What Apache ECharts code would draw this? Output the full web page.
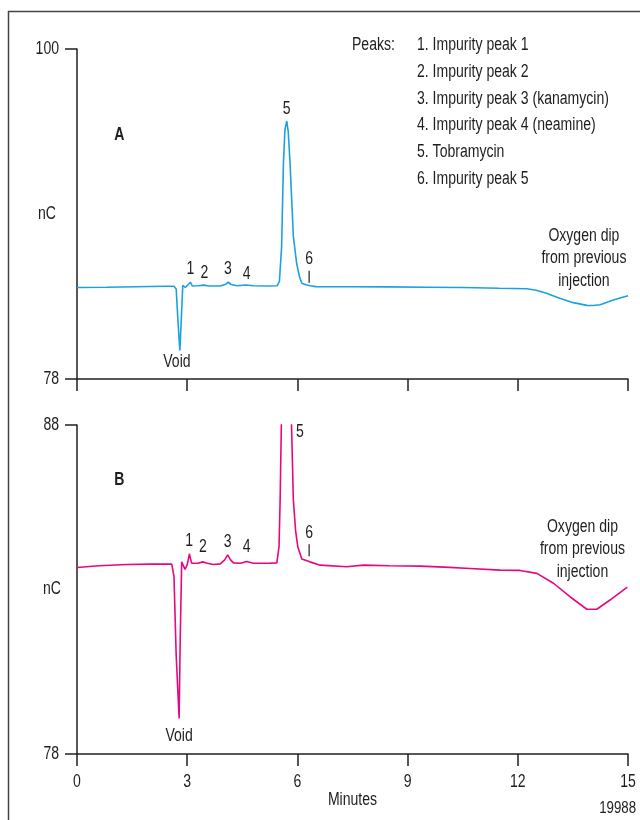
<!DOCTYPE html>
<html>
<head>
<meta charset="utf-8">
<script src="https://cdn.jsdelivr.net/npm/echarts@6/dist/echarts.min.js"></script>
<style>html,body{margin:0;padding:0;background:#fff}#chart{width:640px;height:820px}</style>
</head>
<body>
<div id="chart"></div>
<script>
// ---- Data ----
var xTicks = [0, 3, 6, 9, 12, 15];
var yTicksA = [78, 100];
var yTicksB = [78, 88];

// Chromatogram A (minutes, nC)
var timesA = [0.00,0.80,1.60,2.40,2.64,2.70,2.75,2.80,2.84,2.88,2.90,2.95,2.99,3.09,3.14,3.30,3.45,3.60,3.90,4.05,4.12,4.20,4.35,4.60,4.80,5.20,5.45,5.51,5.57,5.62,5.66,5.71,5.75,5.80,5.89,5.98,6.06,6.12,6.25,6.35,6.50,7.50,8.50,9.50,10.50,11.50,12.24,12.50,12.78,13.10,13.51,13.88,14.05,14.24,14.60,15.00];
var valuesA = [84.10,84.12,84.15,84.18,84.18,84.00,81.80,79.90,82.00,84.25,84.35,84.10,84.05,84.45,84.20,84.22,84.26,84.20,84.20,84.32,84.45,84.30,84.22,84.27,84.22,84.20,84.22,84.50,86.80,92.40,94.60,95.20,94.50,92.40,87.50,85.70,84.80,84.38,84.27,84.22,84.16,84.15,84.14,84.12,84.10,84.05,84.02,83.92,83.71,83.42,83.09,82.91,82.90,82.95,83.27,83.55];

// Chromatogram B (minutes, nC)
var timesB = [0.00,0.60,1.35,2.00,2.58,2.64,2.70,2.78,2.81,2.85,2.90,2.94,3.00,3.06,3.12,3.17,3.30,3.42,3.55,3.71,3.90,4.02,4.10,4.18,4.26,4.45,4.62,4.80,5.20,5.44,5.50,5.53,5.57,5.62,5.66,5.71,5.75,5.80,5.84,5.89,5.95,6.01,6.12,6.34,6.62,7.34,7.80,8.50,9.34,10.00,10.70,11.52,12.06,12.52,12.97,13.42,13.88,14.15,14.51,14.98];
var valuesB = [83.67,83.72,83.76,83.77,83.77,83.40,81.00,79.08,81.50,83.84,83.90,83.61,83.75,84.08,83.80,83.74,83.80,83.84,83.80,83.76,83.78,83.90,84.05,83.90,83.81,83.80,83.85,83.80,83.80,83.81,84.30,85.72,88.50,92.40,94.60,95.20,94.50,92.00,88.00,85.72,84.80,84.30,83.93,83.84,83.74,83.69,83.74,83.72,83.71,83.68,83.64,83.59,83.58,83.49,83.19,82.78,82.40,82.40,82.68,83.07];

// Peak annotations (label anchor positions in data units)
var peakNames = ['1','2','3','4','5','6'];
var peakLabelTimesA = [3.09, 3.47, 4.11, 4.62, 5.71, 6.32];
var peakLabelValuesA = [85.33, 85.04, 85.33, 84.98, 96.0, 86.0];
var peakLabelTimesB = [3.05, 3.43, 4.10, 4.62, 6.07, 6.32];
var peakLabelValuesB = [84.48, 84.28, 84.45, 84.28, 87.78, 84.71];
var peak6MarkA = [6.32, 84.82];
var peak6MarkB = [6.32, 84.19];
var voidA = [2.72, 79.10];
var voidB = [2.78, 78.55];
var oxygenA = [13.80, 86.05];
var oxygenB = [13.76, 84.22];
var panelA = [1.15, 94.25];
var panelB = [1.15, 86.33];

var xAxisTitle = 'Minutes';
var yAxisTitle = 'nC';
var figureId = '19988';
var legendTitle = 'Peaks:';
var legendItems = ['1. Impurity peak 1','2. Impurity peak 2','3. Impurity peak 3 (kanamycin)','4. Impurity peak 4 (neamine)','5. Tobramycin','6. Impurity peak 5'];
var oxygenText = 'Oxygen dip\nfrom previous\ninjection';

// ---- Styles ----
var FONT = "'Liberation Sans', Arial, sans-serif";
var NARROW = 0.78;
var FS = 18;
var TXT = '#1e1e1e';
var AXC = '#231f20';
var colA = '#1ba1e2';
var colB = '#e6087f';

function pairs(t, v){ return t.map(function(x,i){ return [x, v[i]]; }); }

var chart = echarts.init(document.getElementById('chart'), null, {renderer:'canvas'});

function xAxisCfg(idx){
  return {
    gridIndex: idx, type: 'value', min: 0, max: 15, interval: 3,
    axisLine: {show: true, onZero: false, lineStyle: {color: AXC, width: 1.5}},
    axisTick: {show: true, length: 12, lineStyle: {color: AXC, width: 1.5}},
    axisLabel: {show: false},
    splitLine: {show: false}
  };
}
function yAxisCfg(idx, lo, hi, ticks){
  return {
    gridIndex: idx, type: 'value', min: lo, max: hi,
    axisLine: {show: true, lineStyle: {color: AXC, width: 1.5}},
    axisTick: {show: true, length: 12, customValues: ticks, lineStyle: {color: AXC, width: 1.5}},
    axisLabel: {show: false},
    splitLine: {show: false}
  };
}

var option = {
  animation: false,
  backgroundColor: '#fff',
  grid: [
    {left: 77, top: 49, width: 551, height: 330},
    {left: 77, top: 425, width: 551, height: 329}
  ],
  xAxis: [xAxisCfg(0), xAxisCfg(1)],
  yAxis: [yAxisCfg(0, 78, 100, yTicksA), yAxisCfg(1, 78, 88, yTicksB)],
  series: [
    {type:'line', xAxisIndex:0, yAxisIndex:0, data: pairs(timesA, valuesA), showSymbol:false, symbol:'none', lineStyle:{color: colA, width: 1.6}, clip: true, z: 3},
    {type:'line', xAxisIndex:1, yAxisIndex:1, data: pairs(timesB, valuesB), showSymbol:false, symbol:'none', lineStyle:{color: colB, width: 1.6}, clip: true, z: 3},
    {type:'scatter', xAxisIndex:0, yAxisIndex:0, symbol:'rect', symbolSize:[1.5, 12], silent:true, itemStyle:{color: TXT}, data:[peak6MarkA]},
    {type:'scatter', xAxisIndex:1, yAxisIndex:1, symbol:'rect', symbolSize:[1.5, 12], silent:true, itemStyle:{color: TXT}, data:[peak6MarkB]}
  ]
};
chart.setOption(option);

// ---- Text, positioned through the chart's own scales ----
function px(grid, pt){ return chart.convertToPixel({gridIndex: grid}, pt); }
function txt(x, y, s, opts){
  opts = opts || {};
  return {
    type: 'text', x: x, y: y, scaleX: NARROW, silent: true, z: 10,
    style: {
      x: 0, y: 0, text: s,
      font: (opts.bold ? 'bold ' : '') + (opts.size || FS) + 'px ' + FONT,
      fill: TXT, align: opts.align || 'center', verticalAlign: opts.valign || 'middle',
      lineHeight: opts.lineHeight || 20
    }
  };
}
var g = [
  {type:'line', shape:{x1: 8, y1: 11.5, x2: 640, y2: 11.5}, style:{stroke:'#444', lineWidth: 1.5}, silent:true},
  {type:'line', shape:{x1: 8.5, y1: 11, x2: 8.5, y2: 820}, style:{stroke:'#444', lineWidth: 1.5}, silent:true}
];
// y tick labels
yTicksA.forEach(function(v){ var p = px(0, [0, v]); g.push(txt(p[0] - 18, p[1], String(v), {align:'right'})); });
yTicksB.forEach(function(v){ var p = px(1, [0, v]); g.push(txt(p[0] - 18, p[1], String(v), {align:'right'})); });
// x tick labels (bottom panel only)
xTicks.forEach(function(v){ var p = px(1, [v, 78]); g.push(txt(p[0], p[1] + 28, String(v))); });
// axis titles
(function(){
  var p = px(1, [7.5, 78]); g.push(txt(p[0], p[1] + 46, xAxisTitle));
  var a = px(0, [0, 89]); g.push(txt(a[0] - 30, a[1], yAxisTitle));
  var b = px(1, [0, 83]); g.push(txt(b[0] - 25, b[1], yAxisTitle));
})();
// peak numbers
peakNames.forEach(function(n, i){
  var a = px(0, [peakLabelTimesA[i], peakLabelValuesA[i]]); g.push(txt(a[0], a[1], n));
  var b = px(1, [peakLabelTimesB[i], peakLabelValuesB[i]]); g.push(txt(b[0], b[1], n));
});
[[0, voidA, 'Void', {}], [1, voidB, 'Void', {}], [0, oxygenA, oxygenText, {lineHeight: 22.5}], [1, oxygenB, oxygenText, {lineHeight: 22.5}],
 [0, panelA, 'A', {bold: true}], [1, panelB, 'B', {bold: true}]].forEach(function(d){
  var p = px(d[0], d[1]); g.push(txt(p[0], p[1], d[2], d[3]));
});
// legend
g.push(txt(352, 45, legendTitle, {align:'left'}));
legendItems.forEach(function(s, i){ g.push(txt(417, 45 + i*26.8, s, {align:'left'})); });
// figure id
g.push(txt(636, 808, figureId, {align:'right', size: 17}));

chart.setOption({graphic: g});
</script>
</body>
</html>
